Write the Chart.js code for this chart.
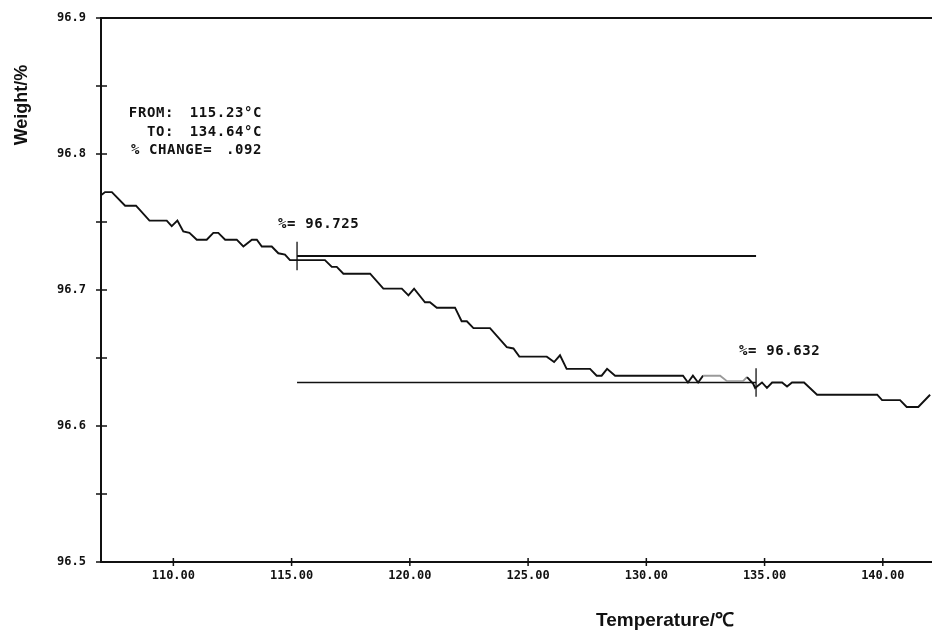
<!DOCTYPE html>
<html>
<head>
<meta charset="utf-8">
<script src="https://cdn.jsdelivr.net/npm/chart.js@4.4.1/dist/chart.umd.min.js"></script>
<style>
  html, body { margin: 0; padding: 0; background: #fff; }
  #wrap { width: 932px; height: 638px; }
</style>
</head>
<body>
<div id="wrap"><canvas id="c" width="932" height="638"></canvas></div>
<script>
// TGA trace: sample temperature (°C) and remaining weight (%)
const temperature = [106.97,107.11,107.40,107.96,108.42,108.99,109.72,109.93,110.17,110.42,110.68,110.99,111.41,111.69,111.90,112.19,112.68,112.96,113.32,113.53,113.74,114.16,114.44,114.72,114.93,115.23,116.41,116.70,116.91,117.19,118.32,118.88,119.66,119.94,120.18,120.64,120.85,121.14,121.91,122.19,122.41,122.69,123.39,124.10,124.38,124.63,125.79,126.10,126.35,126.63,127.62,127.90,128.11,128.34,128.68,131.55,131.76,131.97,132.19,132.40,133.12,133.41,134.09,134.26,134.52,134.60,134.89,135.10,135.32,135.53,135.74,135.95,136.16,136.67,137.22,139.76,139.97,140.73,141.01,141.50,142.00];
const weight = [96.770,96.772,96.772,96.762,96.762,96.751,96.751,96.747,96.751,96.743,96.742,96.737,96.737,96.742,96.742,96.737,96.737,96.732,96.737,96.737,96.732,96.732,96.727,96.726,96.722,96.722,96.722,96.717,96.717,96.712,96.712,96.701,96.701,96.696,96.701,96.691,96.691,96.687,96.687,96.677,96.677,96.672,96.672,96.658,96.657,96.651,96.651,96.647,96.652,96.642,96.642,96.637,96.637,96.642,96.637,96.637,96.632,96.637,96.632,96.637,96.637,96.633,96.633,96.636,96.631,96.628,96.632,96.628,96.632,96.632,96.632,96.629,96.632,96.632,96.623,96.623,96.619,96.619,96.614,96.614,96.623];

// axis ticks
const xTicks = [110, 115, 120, 125, 130, 135, 140];
const yTicks = [96.5, 96.6, 96.7, 96.8, 96.9];
const yMinorTicks = [96.55, 96.65, 96.75, 96.85];

// step analysis
const rangeFrom = 115.23;
const rangeTo = 134.64;
const weightFrom = 96.725;
const weightTo = 96.632;
const percentChange = '.092';

const xMin = 106.94, xMax = 142.08;
const yMin = 96.5, yMax = 96.9;

const curve = temperature.map((t, i) => ({ x: t, y: weight[i] }));
const hLine = (w) => [{ x: rangeFrom, y: w }, { x: rangeTo, y: w }];
const vMark = (t, w) => [{ x: t, y: w + 0.0105 }, { x: t, y: w - 0.0105 }];

const INK = '#111';
const MONO = '"DejaVu Sans Mono", monospace';
const plain = { showLine: true, pointRadius: 0, borderColor: INK, tension: 0, fill: false };

const frameAndText = {
  id: 'frameAndText',
  afterDatasetsDraw(chart) {
    const { ctx, chartArea: a, scales: { x, y } } = chart;
    ctx.save();
    ctx.strokeStyle = INK;
    ctx.lineWidth = 2;
    ctx.beginPath();
    ctx.moveTo(a.left, a.bottom); ctx.lineTo(a.left, a.top);
    ctx.moveTo(a.left - 1, a.top); ctx.lineTo(a.right, a.top);
    ctx.moveTo(a.left - 1, a.bottom); ctx.lineTo(a.right, a.bottom);
    ctx.stroke();

    ctx.lineWidth = 1.5;
    ctx.beginPath();
    yTicks.concat(yMinorTicks).forEach(v => {
      const py = y.getPixelForValue(v);
      ctx.moveTo(a.left - 5, py); ctx.lineTo(a.left + 6, py);
    });
    xTicks.forEach(v => {
      const px = x.getPixelForValue(v);
      ctx.moveTo(px, a.bottom - 4); ctx.lineTo(px, a.bottom + 4);
    });
    ctx.stroke();

    // annotation texts
    ctx.fillStyle = INK;
    ctx.textBaseline = 'middle';
    ctx.font = 'bold 14px ' + MONO;
    try { ctx.letterSpacing = '0.6px'; } catch (e) {}
    const fx = x.getPixelForValue(rangeFrom), fy = y.getPixelForValue(weightFrom);
    const tx = x.getPixelForValue(rangeTo), ty = y.getPixelForValue(weightTo);
    ctx.textAlign = 'left';
    ctx.fillText('%= ' + weightFrom.toFixed(3), fx - 19, fy - 32);
    ctx.fillText('%= ' + weightTo.toFixed(3), tx - 17, ty - 31);

    ctx.textAlign = 'right';
    ctx.fillText('FROM:', 174, 113);
    ctx.fillText('TO:', 174, 132);
    ctx.fillText(rangeFrom.toFixed(2) + '°C', 262, 113);
    ctx.fillText(rangeTo.toFixed(2) + '°C', 262, 132);
    ctx.fillText(percentChange, 262, 150);
    ctx.textAlign = 'left';
    ctx.fillText('% CHANGE=', 131, 150);
    try { ctx.letterSpacing = '0px'; } catch (e) {}

    // axis titles
    ctx.font = 'bold 19px "Liberation Sans", Arial, sans-serif';
    ctx.textAlign = 'center';
    ctx.fillText('Temperature/℃', 665, 621);
    ctx.font = 'bold 18px "Liberation Sans", Arial, sans-serif';
    ctx.translate(22, 105);
    ctx.rotate(-Math.PI / 2);
    ctx.fillText('Weight/%', 0, 0);
    ctx.restore();
  }
};

new Chart(document.getElementById('c'), {
  type: 'scatter',
  data: {
    datasets: [
      Object.assign({}, plain, {
        data: curve,
        borderWidth: 1.9,
        segment: {
          borderColor: c => (c.p0.parsed.x >= 132.4 && c.p0.parsed.x < 134.26) ? '#9a9a9a' : INK
        }
      }),
      Object.assign({}, plain, { data: hLine(weightFrom), borderWidth: 2 }),
      Object.assign({}, plain, { data: hLine(weightTo), borderWidth: 1.6 }),
      Object.assign({}, plain, { data: vMark(rangeFrom, weightFrom), borderWidth: 1.3 }),
      Object.assign({}, plain, { data: vMark(rangeTo, weightTo), borderWidth: 1.3 })
    ]
  },
  options: {
    responsive: false,
    animation: false,
    devicePixelRatio: 1,
    layout: { padding: { top: 18, left: 0, right: 0, bottom: 0 } },
    plugins: { legend: { display: false }, tooltip: { enabled: false } },
    scales: {
      x: {
        type: 'linear', min: xMin, max: xMax,
        grid: { display: false, drawTicks: false },
        border: { display: false },
        afterBuildTicks: s => { s.ticks = xTicks.map(v => ({ value: v })); },
        afterFit: s => { s.height = 76; s.paddingLeft = 0; s.paddingRight = 0; },
        ticks: {
          color: INK, padding: 7, maxRotation: 0, autoSkip: false,
          font: { family: MONO, size: 12, weight: 'bold' },
          callback: v => Number(v).toFixed(2)
        }
      },
      y: {
        type: 'linear', min: yMin, max: yMax,
        grid: { display: false, drawTicks: false },
        border: { display: false },
        afterBuildTicks: s => { s.ticks = yTicks.map(v => ({ value: v })); },
        afterFit: s => { s.width = 101; s.paddingTop = 0; s.paddingBottom = 0; },
        ticks: {
          color: INK, padding: 15, autoSkip: false,
          font: { family: MONO, size: 12, weight: 'bold' },
          callback: v => Number(v).toFixed(1)
        }
      }
    }
  },
  plugins: [frameAndText]
});
</script>
</body>
</html>
